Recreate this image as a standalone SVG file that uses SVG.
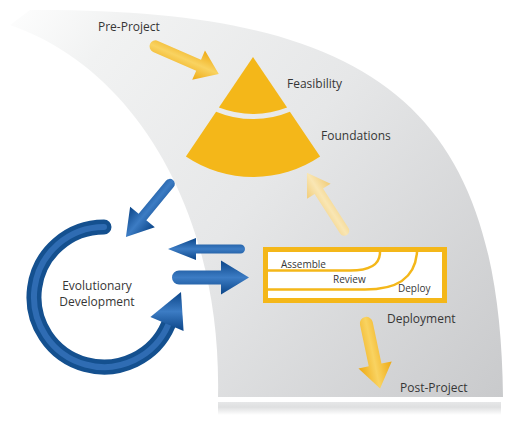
<svg xmlns="http://www.w3.org/2000/svg" width="530" height="422" viewBox="0 0 530 422">
<defs>
  <linearGradient id="gBand" gradientUnits="userSpaceOnUse" x1="0" y1="0" x2="500" y2="400">
    <stop offset="0" stop-color="#f2f3f3" stop-opacity="0"/>
    <stop offset="0.17" stop-color="#f1f2f2" stop-opacity="1"/>
    <stop offset="0.5" stop-color="#e6e7e8"/>
    <stop offset="1" stop-color="#c9cacc"/>
  </linearGradient>
  <linearGradient id="gRefl" x1="0" y1="0" x2="0" y2="1">
    <stop offset="0" stop-color="#e6e7e8"/>
    <stop offset="0.4" stop-color="#dfe0e1"/>
    <stop offset="1" stop-color="#ffffff"/>
  </linearGradient>
  <linearGradient id="gYellow" x1="0" y1="0" x2="0" y2="1">
    <stop offset="0" stop-color="#eea913"/>
    <stop offset="0.5" stop-color="#f9d361"/>
    <stop offset="1" stop-color="#eea913"/>
  </linearGradient>
  <linearGradient id="gPale" x1="0" y1="0" x2="0" y2="1">
    <stop offset="0" stop-color="#f1cc78"/>
    <stop offset="0.5" stop-color="#f9e6b4"/>
    <stop offset="1" stop-color="#f1cc78"/>
  </linearGradient>
  <linearGradient id="gBlue" x1="0" y1="0" x2="0" y2="1">
    <stop offset="0" stop-color="#0b4588"/>
    <stop offset="0.5" stop-color="#3c7cc4"/>
    <stop offset="1" stop-color="#0b4588"/>
  </linearGradient>
  <style>
    .lbl { font-family: "Open Sans", "Liberation Sans", sans-serif; font-size: 12px; fill: #363636; }
    .sm { font-family: "Open Sans", "Liberation Sans", sans-serif; font-size: 10px; fill: #363636; }
    .pyr { fill: #f4b719; }
    .sub { fill: none; stroke: #f4b719; stroke-width: 2.5; }
  </style>
</defs>

<g id="band">
  <path d="M30,10 C380,8 500,110 503,397 L218,397 C222,220 140,70 10,25 Z" fill="url(#gBand)"/>
  <rect x="218" y="402" width="283" height="13" fill="url(#gRefl)"/>
</g>

<g id="feasibility">
  <path class="pyr" d="M253,57 L218.9,107.6 A96,96 0 0 0 287.1,107.6 Z"/>
  <text class="lbl" x="287" y="88">Feasibility</text>
</g>

<g id="foundations">
  <path class="pyr" d="M216.1,111.7 A96,96 0 0 0 289.9,111.7 L320.1,156.5 A120,120 0 0 1 185.9,156.5 Z"/>
  <text class="lbl" x="321" y="140">Foundations</text>
</g>

<g id="pre-project">
  <text class="lbl" x="98" y="31">Pre-Project</text>
</g>

<g id="evolutionary-development">
  <path d="M104,227 A70,70 0 1 0 168.4,324.4" fill="none" stroke="#14508f" stroke-width="15" stroke-linecap="round"/>
  <path d="M104,227 A70,70 0 1 0 168.4,324.4" fill="none" stroke="#3673bb" stroke-width="6" stroke-linecap="round" opacity="0.8"/>
  <polygon points="150.4,317 183.6,331 181,292" fill="url(#gBlue)"/>
  <text class="lbl" x="97" y="290" text-anchor="middle">Evolutionary</text>
  <text class="lbl" x="97" y="306" text-anchor="middle">Development</text>
</g>

<g id="deployment">
  <rect x="265.5" y="249.5" width="179" height="51" fill="#ffffff" stroke="#f4b719" stroke-width="5"/>
  <path class="sub" d="M268,270.5 H350 C370,270.5 380,265 380,252"/>
  <path class="sub" d="M268,289.5 H365 C395,289.5 415,280 417,252"/>
  <text class="sm" x="281" y="267.5">Assemble</text>
  <text class="sm" x="333" y="283">Review</text>
  <text class="sm" x="398" y="291.5">Deploy</text>
  <text class="lbl" x="387" y="322.5">Deployment</text>
</g>

<g id="post-project">
  <text class="lbl" x="400" y="391.5">Post-Project</text>
</g>

<g id="connectors">
  <path transform="translate(150,44) rotate(23.5)" fill="url(#gYellow)" d="M6,-6 L53,-6 L53,-16 L75,0 L53,16 L53,6 L6,6 A6,6 0 0 1 6,-6 Z"/>
  <path transform="translate(347,235) rotate(-122.8)" fill="url(#gPale)" d="M5,-5 L52,-5 L52,-14 L74,0 L52,14 L52,5 L5,5 A5,5 0 0 1 5,-5 Z"/>
  <path transform="translate(365,317) rotate(78.1)" fill="url(#gYellow)" d="M6.5,-6.5 L49,-6.5 L49,-17 L73,0 L49,17 L49,6.5 L6.5,6.5 A6.5,6.5 0 0 1 6.5,-6.5 Z"/>
  <path transform="translate(173,180) rotate(129.5)" fill="url(#gBlue)" d="M5,-5 L48,-5 L48,-16 L74,0 L48,16 L48,5 L5,5 A5,5 0 0 1 5,-5 Z"/>
  <path transform="translate(245,249) rotate(180)" fill="url(#gBlue)" d="M4.5,-4.5 L49,-4.5 L49,-11 L77,0 L49,11 L49,4.5 L4.5,4.5 A4.5,4.5 0 0 1 4.5,-4.5 Z"/>
  <path transform="translate(172,277.5) rotate(0)" fill="url(#gBlue)" d="M7,-7 L49,-7 L49,-17 L77,0 L49,17 L49,7 L7,7 A7,7 0 0 1 7,-7 Z"/>
</g>
</svg>
